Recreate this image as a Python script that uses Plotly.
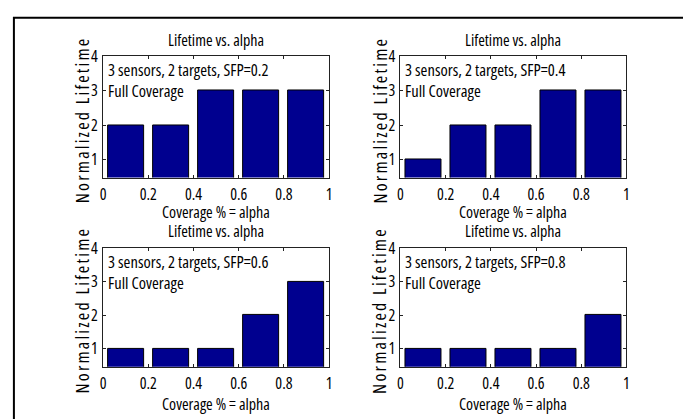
import plotly.graph_objects as go

# Coverage fraction (bar centres) and normalized lifetime per sensing-failure probability
alpha = [0.1, 0.3, 0.5, 0.7, 0.9]
sfp_labels = ["0.2", "0.4", "0.6", "0.8"]
lifetime_sfp02 = [2, 2, 3, 3, 3]
lifetime_sfp04 = [1, 2, 2, 3, 3]
lifetime_sfp06 = [1, 1, 1, 2, 3]
lifetime_sfp08 = [1, 1, 1, 1, 2]
x_ticks = [0, 0.2, 0.4, 0.6, 0.8, 1]
y_ticks = [1, 2, 3, 4]

series = [lifetime_sfp02, lifetime_sfp04, lifetime_sfp06, lifetime_sfp08]

W, H = 683, 419
FONT = "Open Sans, Liberation Sans, sans-serif"
FS = 16
BAR_COLOR = "#00008F"


def narrow(s, stretch=85, extra=""):
    """Wrap text in a condensed span."""
    return f'<span style="font-stretch:{stretch}%;{extra}">{s}</span>'


# panel boxes in pixels: (left, right, top, bottom), title line, x-title line
boxes = [
    (101, 329, 46.7, 171, 30, 206),
    (401, 629, 46.7, 171, 30, 206),
    (101, 329, 243.3, 365.3, 226, 404),
    (401, 629, 243.3, 365.3, 226, 404),
]

fig = go.Figure()
annotations = []

for i, (vals, sfp, box) in enumerate(zip(series, sfp_labels, boxes)):
    n = "" if i == 0 else str(i + 1)
    xa, ya = "x" + n, "y" + n
    fig.add_trace(go.Bar(
        x=alpha, y=vals, width=0.16,
        marker=dict(color=BAR_COLOR, line=dict(color="black", width=1)),
        xaxis=xa, yaxis=ya, showlegend=False, hoverinfo="skip",
    ))
    l, r, t, b, ty, xy = box
    axis_common = dict(
        showline=True, linecolor="#222", linewidth=1, mirror="ticks",
        ticks="inside", ticklen=3, tickwidth=1, tickcolor="#222",
        showgrid=False, zeroline=False,
        tickfont=dict(family=FONT, size=FS, color="black"),
    )
    fig.update_layout(**{
        "xaxis" + n: dict(domain=[l / W, r / W], range=[0, 1], tickvals=x_ticks,
                          ticktext=[narrow(f"{v:g}") for v in x_ticks], anchor=ya,
                          ticklabelstandoff=2, **axis_common),
        "yaxis" + n: dict(domain=[1 - b / H, 1 - t / H], range=[0.47, 4], tickvals=y_ticks,
                          ticktext=[narrow(str(v)) for v in y_ticks],
                          anchor=xa, ticklabelstandoff=1, **axis_common),
    })
    cx = (l + r) / 2
    # subplot title
    annotations.append(dict(
        text=narrow("Lifetime vs. alpha"), x=cx / W, y=1 - ty / H,
        xref="paper", yref="paper", showarrow=False, xanchor="center", yanchor="middle",
        font=dict(family=FONT, size=FS, color="black"),
    ))
    # x-axis title
    annotations.append(dict(
        text=narrow("Coverage % = alpha", 86), x=cx / W, y=1 - xy / H,
        xref="paper", yref="paper", showarrow=False, xanchor="center", yanchor="middle",
        font=dict(family=FONT, size=FS, color="black"),
    ))
    # y-axis title
    annotations.append(dict(
        text=narrow("Normalized Lifetime", 84, "letter-spacing:2.2px"),
        x=(l - 21) / W, y=1 - ((t + b) / 2 + 3) / H, textangle=-90,
        xref="paper", yref="paper", showarrow=False, xanchor="center", yanchor="middle",
        font=dict(family=FONT, size=18, color="black"),
    ))
    # in-plot label
    annotations.append(dict(
        text=narrow(f"3 sensors, 2 targets, SFP={sfp}", 85) + "<br>" + narrow("Full Coverage", 85),
        x=(l + 3) / W, y=1 - t / H, align="left",
        xref="paper", yref="paper", showarrow=False, xanchor="left", yanchor="top",
        font=dict(family=FONT, size=16.5, color="black"),
    ))

fig.update_layout(
    width=W, height=H,
    margin=dict(l=0, r=0, t=0, b=0),
    paper_bgcolor="white", plot_bgcolor="white",
    annotations=annotations,
    bargap=0,
    shapes=[dict(type="rect", xref="paper", yref="paper",
                 x0=11 / W, x1=1.02, y0=-0.02, y1=1 - 7 / H,
                 line=dict(color="black", width=2))],
)

# drop the default page margin so the figure sits at the window origin
fig.write_html("out.html", post_script="document.body.style.margin='0';")
